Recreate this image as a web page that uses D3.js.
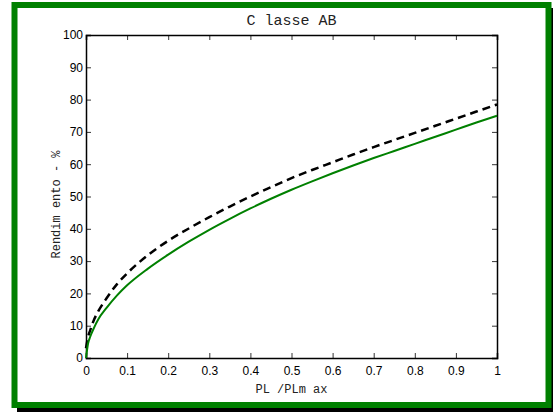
<!DOCTYPE html>
<html><head><meta charset="utf-8">
<script src="https://cdn.jsdelivr.net/npm/d3@7"></script>
<style>body{margin:0;background:#fff}svg{display:block}</style>
</head><body>
<script>
const xTicks = [0,0.1,0.2,0.3,0.4,0.5,0.6,0.7,0.8,0.9,1];
const yTicks = [0,10,20,30,40,50,60,70,80,90,100];
const xVals = [0,0.005,0.01,0.02,0.03,0.05,0.075,0.1,0.15,0.2,0.25,0.3,0.35,0.4,0.45,0.5,0.55,0.6,0.65,0.7,0.75,0.8,0.85,0.9,0.95,1];
const greenVals = [0,4.5,6.5,9.5,12,15.5,19.3,22.5,27.6,32,36,39.7,43.1,46.3,49.3,52.1,54.7,57.2,59.6,61.9,64.1,66.3,68.5,70.7,72.9,75];
const dashVals = [3,6.5,8.5,12,14.5,18.5,22.8,26.2,31.8,36.3,40.1,43.6,46.9,50,52.9,55.7,58.2,60.6,63,65.3,67.5,69.7,71.9,74.1,76.3,78.5];
const title = "C lasse AB";
const xLabel = "PL /PLm ax";
const yLabel = "Rendim ento - %";

const W = 553, H = 412;
const svg = d3.select("body").append("svg").attr("width", W).attr("height", H);
// shadow + frame
svg.append("rect").attr("x",17).attr("y",8).attr("width",545).attr("height",410).attr("fill","#000");
svg.append("rect").attr("x",14.5).attr("y",5).attr("width",534).attr("height",400)
  .attr("fill","#fff").attr("stroke","#008000").attr("stroke-width",6);

const L = 86, R = 497, T = 35, B = 358;
const x = d3.scaleLinear().domain([0,1]).range([L,R]);
const y = d3.scaleLinear().domain([0,100]).range([B,T]);

const font = "Liberation Sans, Arial, sans-serif";
const mono = "Liberation Mono, Courier New, monospace";

// axes
const gB = svg.append("g").attr("transform",`translate(0,${B})`)
  .call(d3.axisBottom(x).tickValues(xTicks).tickSize(-5).tickPadding(8).tickFormat(d3.format("~g")));
const gT = svg.append("g").attr("transform",`translate(0,${T})`)
  .call(d3.axisTop(x).tickValues(xTicks).tickSize(-5).tickFormat(""));
const gL = svg.append("g").attr("transform",`translate(${L},0)`)
  .call(d3.axisLeft(y).tickValues(yTicks).tickSize(-5).tickPadding(3));
const gR = svg.append("g").attr("transform",`translate(${R},0)`)
  .call(d3.axisRight(y).tickValues(yTicks).tickSize(-5).tickFormat(""));
[gB,gT,gL,gR].forEach(g=>{
  g.select(".domain").attr("stroke","#000").attr("stroke-width",1.5);
  g.selectAll(".tick line").attr("stroke","#000").attr("stroke-width",0.8);
  g.selectAll(".tick text").attr("font-family",font).attr("font-size",12).attr("fill","#000");
});

// lines
const line = d3.line().x((d,i)=>x(xVals[i])).y(d=>y(d)).curve(d3.curveMonotoneX);
svg.append("path").datum(dashVals).attr("d",line).attr("fill","none")
  .attr("stroke","#000").attr("stroke-width",2.5).attr("stroke-dasharray","8,5");
svg.append("path").datum(greenVals).attr("d",line).attr("fill","none")
  .attr("stroke","#008000").attr("stroke-width",2);

// texts
svg.append("text").attr("x",(L+R)/2).attr("y",25).attr("text-anchor","middle")
  .attr("font-family",mono).attr("font-size",15).attr("fill","#222").text(title);
svg.append("text").attr("x",(L+R)/2).attr("y",393).attr("text-anchor","middle")
  .attr("font-family",mono).attr("font-size",12).attr("fill","#222").text(xLabel);
svg.append("text").attr("transform",`translate(60,${(T+B)/2+8}) rotate(-90)`).attr("text-anchor","middle")
  .attr("font-family",mono).attr("font-size",12).attr("fill","#222").text(yLabel);
</script>
</body></html>
